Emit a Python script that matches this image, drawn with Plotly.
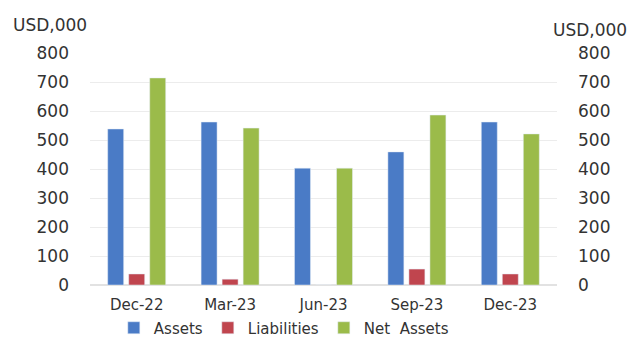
import plotly.graph_objects as go

# Quarter-end balances, USD thousands
quarters = ["Dec-22", "Mar-23", "Jun-23", "Sep-23", "Dec-23"]
assets = [538, 562, 403, 459, 562]
liabilities = [38, 20, 0, 55, 38]
net_assets = [714, 541, 403, 586, 521]

tick_vals = [0, 100, 200, 300, 400, 500, 600, 700, 800]
tick_text = [str(v) for v in tick_vals]

FONT = "DejaVu Sans"
TXT = "#333333"

fig = go.Figure()
fig.add_trace(go.Bar(name="Assets", x=quarters, y=assets, marker_color="#4A7BC6"))
fig.add_trace(go.Bar(name="Liabilities", x=quarters, y=liabilities, marker_color="#C0454E"))
fig.add_trace(go.Bar(name="Net  Assets", x=quarters, y=net_assets, marker_color="#9BBB4A"))
# empty series so the mirrored right-hand axis is drawn
fig.add_trace(go.Scatter(x=quarters, y=[None] * len(quarters), yaxis="y2",
                         showlegend=False, hoverinfo="skip"))

axis_common = dict(
    range=[0, 800], tickvals=tick_vals, ticktext=tick_text,
    tickfont=dict(family=FONT, size=17, color=TXT),
    ticklabelstandoff=20, fixedrange=True, automargin=False,
)

fig.update_layout(
    width=632, height=340,
    margin=dict(l=90, r=75, t=53, b=55, autoexpand=False),
    paper_bgcolor="white", plot_bgcolor="white",
    barmode="group", bargap=0.325, bargroupgap=0.24,
    font=dict(family=FONT, color=TXT),
    xaxis=dict(tickfont=dict(family=FONT, size=15, color=TXT),
               showline=True, linecolor="#e2e2e2", linewidth=1,
               ticks="", showgrid=False, automargin=False,
               ticklabelstandoff=6),
    yaxis=dict(showgrid=True, gridcolor="#ececec", gridwidth=1,
               zeroline=True, zerolinecolor="#e2e2e2", **axis_common),
    yaxis2=dict(overlaying="y", side="right", showgrid=False, zeroline=False,
                **axis_common),
    legend=dict(orientation="h", x=0.415, xanchor="center",
                yref="container", y=1 - 328 / 340, yanchor="middle",
                font=dict(family=FONT, size=15, color=TXT),
                itemwidth=30, tracegroupgap=0, bgcolor="rgba(0,0,0,0)"),
    annotations=[
        dict(text="USD,000", xref="paper", yref="paper", x=-0.17, y=1.12,
             xanchor="left", yanchor="middle", showarrow=False,
             font=dict(family=FONT, size=17, color=TXT)),
        dict(text="USD,000", xref="paper", yref="paper", x=1.155, y=1.1,
             xanchor="right", yanchor="middle", showarrow=False,
             font=dict(family=FONT, size=17, color=TXT)),
    ],
)

fig.write_html("out.html")
